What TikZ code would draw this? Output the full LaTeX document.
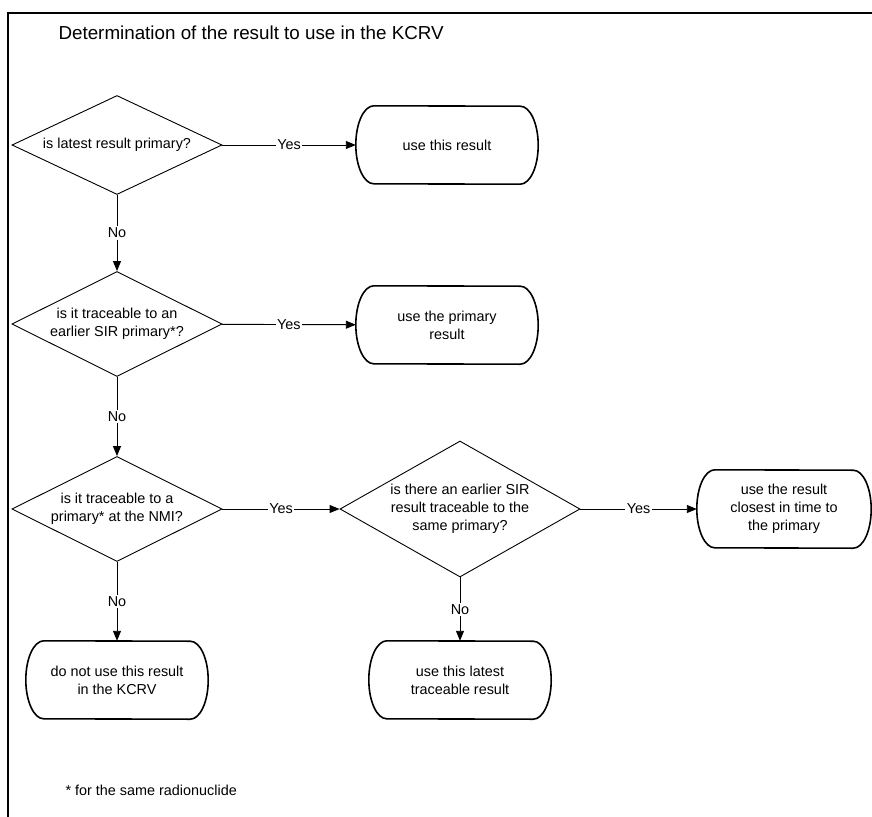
\documentclass[tikz,border=0pt]{standalone}
\usepackage{fontspec}
\setmainfont{Liberation Sans}
\usetikzlibrary{shapes.geometric,arrows.meta}
\tikzset{
  txt/.style={font=\fontsize{14.4}{18}\selectfont},
  q/.style={diamond, draw, line width=0.9pt, aspect=2, inner sep=0pt, align=center, txt},
  r/.style={minimum width=182pt, minimum height=78pt, inner sep=0pt, align=center, txt},
  lbl/.style={fill=white, inner sep=1.5pt, txt}
}
\begin{document}
\begin{tikzpicture}[x=1pt,y=-1pt,>={Triangle[length=10pt,width=8pt]}]
      \useasboundingbox (0,0) rectangle (872,816);
      \clip (0,0) rectangle (872,816);
      \draw[line width=1.8pt] (880,13) -- (8,13) -- (8,830);
      \node[anchor=west, font=\fontsize{18.8}{22}\selectfont] (title) at (55,33)
        {Determination of the result to use in the KCRV};
      \draw
        (117,145) node[q, minimum width=210pt, minimum height=99pt] (q1) {is latest result primary?}
        (117,324) node[q, minimum width=210pt, minimum height=105pt] (q2) {is it traceable to an\\earlier SIR primary*?}
        (117,509) node[q, minimum width=210pt, minimum height=105pt] (q3) {is it traceable to a\\primary* at the NMI?}
        (460,509) node[q, minimum width=240pt, minimum height=136pt] (q4) {is there an earlier SIR\\result traceable to the\\same primary?};
      \path
        (447,145) node[r] (r1) {use this result}
        (447,325) node[r] (r2) {use the primary\\result}
        (784,509) node[r, minimum width=174pt] (r3) {use the result\\closest in time to\\the primary}
        (117,680) node[r] (r4) {do not use this result\\in the KCRV}
        (460,680) node[r] (r5) {use this latest\\traceable result};
      \foreach \n in {r1,r2,r3,r4,r5}
        \draw[line width=1.6pt] ([xshift=18pt]\n.north west)
          arc[start angle=90, end angle=270, x radius=18pt, y radius=39pt]
          -- ([xshift=-18pt]\n.south east)
          arc[start angle=-90, end angle=90, x radius=18pt, y radius=39pt] -- cycle;
      \begin{scope}[->, line width=0.9pt]
        \draw (q1) -- node[lbl] {Yes} (r1);
        \draw (q2) -- node[lbl] {Yes} (r2);
        \draw (q3) -- node[lbl] {Yes} (q4);
        \draw (q4) -- node[lbl] {Yes} (r3);
        \draw (q1) -- node[lbl] {No} (q2);
        \draw (q2) -- node[lbl] {No} (q3);
        \draw (q3) -- node[lbl] {No} (r4);
        \draw (q4) -- node[lbl] {No} (r5);
      \end{scope}
      \node[anchor=west, txt] (note) at (62,790) {* for the same radionuclide};
    \end{tikzpicture}
\end{document}
